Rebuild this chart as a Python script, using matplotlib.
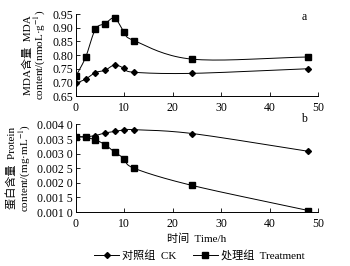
import numpy as np
import matplotlib
matplotlib.use("Agg")
import matplotlib.pyplot as plt
from matplotlib.lines import Line2D

plt.rcParams['font.family'] = ['Liberation Serif', 'Noto Sans CJK SC']
plt.rcParams['mathtext.fontset'] = 'stix'

time_h = [0, 2, 4, 6, 8, 10, 12, 24, 48]
mda_ck = [0.697, 0.712, 0.736, 0.744, 0.764, 0.751, 0.737, 0.733, 0.750]
mda_trt = [0.723, 0.792, 0.894, 0.915, 0.935, 0.883, 0.853, 0.785, 0.793]
prot_ck = [0.00358, 0.00358, 0.00362, 0.00371, 0.00376, 0.00382, 0.00382, 0.00369, 0.00308]
prot_trt = [0.00358, 0.00356, 0.00347, 0.00331, 0.00305, 0.00283, 0.00250, 0.00191, 0.00105]

xticks = [0, 10, 20, 30, 40, 50]
mda_ticks = [0.65, 0.70, 0.75, 0.80, 0.85, 0.90, 0.95]
mda_ticklabels = ["0.65", "0.70", "0.75", "0.80", "0.85", "0.90", "0.95"]
prot_ticks = [0.0010, 0.0015, 0.0020, 0.0025, 0.0030, 0.0035, 0.0040]
prot_ticklabels = ["0.001 0", "0.001 5", "0.002 0", "0.002 5",
                   "0.003 0", "0.003 5", "0.004 0"]

ck_label = "对照组  CK"
trt_label = "处理组  Treatment"
xlabel = "时间  Time/h"
mda_ylabel = "MDA含量  MDA\ncontent/(nmoL·g$^{-1}$)"
prot_ylabel = "蛋白含量  Protein\ncontent/(mg·mL$^{-1}$)"


def smooth(x, y, n=20):
    # Catmull-Rom style curve through points (render style only)
    x = np.asarray(x, float); y = np.asarray(y, float)
    px = np.concatenate([[2 * x[0] - x[1]], x, [2 * x[-1] - x[-2]]])
    py = np.concatenate([[2 * y[0] - y[1]], y, [2 * y[-1] - y[-2]]])
    xs, ys = [], []
    for i in range(1, len(px) - 2):
        t = np.linspace(0, 1, n)
        p0x, p1x, p2x, p3x = px[i - 1:i + 3]
        p0y, p1y, p2y, p3y = py[i - 1:i + 3]
        b1x = p1x + (p2x - p0x) / 6; b1y = p1y + (p2y - p0y) / 6
        b2x = p2x - (p3x - p1x) / 6; b2y = p2y - (p3y - p1y) / 6
        bx = (1 - t) ** 3 * p1x + 3 * (1 - t) ** 2 * t * b1x + 3 * (1 - t) * t ** 2 * b2x + t ** 3 * p2x
        by = (1 - t) ** 3 * p1y + 3 * (1 - t) ** 2 * t * b1y + 3 * (1 - t) * t ** 2 * b2y + t ** 3 * p2y
        xs.extend(bx); ys.extend(by)
    return np.array(xs), np.array(ys)


fig = plt.figure(figsize=(3.5, 2.66), dpi=100)
ax1 = fig.add_axes([0.217, 0.639, 0.692, 0.308])
ax2 = fig.add_axes([0.217, 0.203, 0.692, 0.329])

fs = 8.5
lfs = 8
for ax, ck, trt in [(ax1, mda_ck, mda_trt), (ax2, prot_ck, prot_trt)]:
    for y, m, ms in [(ck, 'D', 3.0), (trt, 's', 4.2)]:
        sx, sy = smooth(time_h, y)
        ax.plot(sx, sy, color='black', lw=0.7)
        ax.plot(time_h, y, linestyle='none', marker=m, ms=ms, color='black')
    ax.set_xlim(0, 50)
    ax.set_xticks(xticks)
    ax.spines['top'].set_visible(False)
    ax.spines['right'].set_visible(False)
    ax.spines['left'].set_linewidth(0.7)
    ax.spines['bottom'].set_linewidth(0.7)
    ax.tick_params(direction='in', length=3, width=0.6, labelsize=fs, pad=2)
    ax.tick_params(axis='x', pad=4)

ax1.set_ylim(0.65, 0.95)
ax1.set_yticks(mda_ticks)
ax1.set_yticklabels(mda_ticklabels)
ax1.set_ylabel(mda_ylabel, fontsize=lfs, linespacing=1.0, labelpad=3)
ax1.text(0.93, 0.93, "a", transform=ax1.transAxes, fontsize=fs)

ax2.set_ylim(0.0010, 0.0040)
ax2.set_yticks(prot_ticks)
ax2.set_yticklabels(prot_ticklabels)
ax2.set_ylabel(prot_ylabel, fontsize=lfs, linespacing=1.0, labelpad=3)
ax2.set_xlabel(xlabel, fontsize=lfs, labelpad=3)
ax2.text(0.93, 1.03, "b", transform=ax2.transAxes, fontsize=fs)

handles = [Line2D([], [], color='black', lw=0.7, marker='D', ms=3.0),
           Line2D([], [], color='black', lw=0.7, marker='s', ms=4.2)]
fig.legend(handles, [ck_label, trt_label], loc='center', bbox_to_anchor=(0.57, 0.04),
           ncol=2, frameon=False, fontsize=lfs, handlelength=2.2, handletextpad=0.3,
           columnspacing=1.5)

fig.savefig("out.png", dpi=100)
